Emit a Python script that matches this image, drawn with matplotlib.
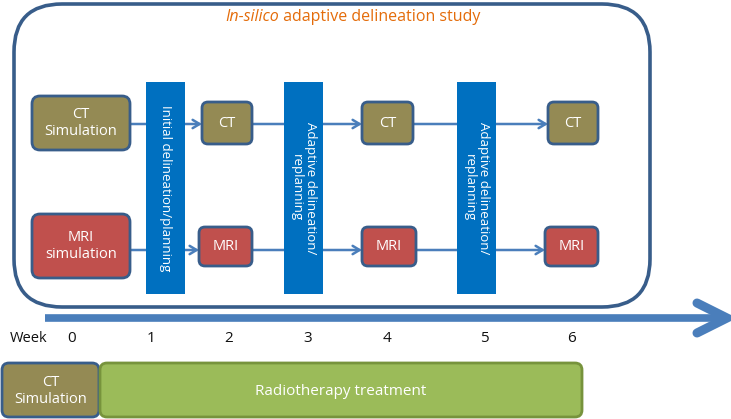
import matplotlib
matplotlib.use("Agg")
import matplotlib.pyplot as plt
from matplotlib.patches import FancyBboxPatch

# ---- content ----
title_italic = "In-silico"
title_rest = " adaptive delineation study"
week_label = "Week"
weeks = ["0", "1", "2", "3", "4", "5", "6"]
sim_labels = ["CT\nSimulation", "MRI\nsimulation"]
scan_labels = ["CT", "MRI"]
bar_labels = ["Initial delineation/planning", "Adaptive delineation/\nreplanning", "Adaptive delineation/\nreplanning"]
bottom_labels = ["CT\nSimulation", "Radiotherapy treatment"]

# ---- colors ----
OLIVE = "#948A54"
RED = "#C0504D"
GREEN = "#9BBB59"
GREEN_EDGE = "#77933C"
BAR = "#0070C0"
EDGE = "#385D8A"
ARROW = "#4A7EBB"
ORANGE = "#E46C0A"

FONT = ["Open Sans", "DejaVu Sans"]

fig = plt.figure(figsize=(7.31, 4.19), dpi=100)
ax = fig.add_axes([0, 0, 1, 1])
ax.set_xlim(0, 731)
ax.set_ylim(419, 0)
ax.axis("off")

def rbox(x0, y0, x1, y1, fc, ec, lw=2.0, r=6, z=3):
    p = FancyBboxPatch((x0, y0), x1 - x0, y1 - y0,
                       boxstyle=f"round,pad=0,rounding_size={r}",
                       fc=fc, ec=ec, lw=lw, zorder=z)
    ax.add_patch(p)

def label(x, y, s, size=10.5, color="white", **kw):
    ax.text(x, y, s, ha="center", va="center", color=color, fontsize=size,
            family=FONT, linespacing=1.15, zorder=6, **kw)

def arrow(x0, x1, y):
    ax.annotate("", xy=(x1, y), xytext=(x0, y),
                arrowprops=dict(arrowstyle="->,head_length=0.5,head_width=0.3",
                                color=ARROW, lw=1.8, shrinkA=0, shrinkB=0),
                zorder=2)

# outer rounded frame
rbox(14, 4, 650, 307, "white", EDGE, lw=2.6, r=48, z=1)

# title
ax.text(279, 17, title_italic, ha="right", va="center", color=ORANGE,
        fontsize=11.5, family=FONT, style="italic")
ax.text(279, 17, title_rest, ha="left", va="center", color=ORANGE,
        fontsize=11.5, family=FONT)

# rows
row_y = [124, 250]
row_fc = [OLIVE, RED]
sim_box = [(32, 96, 130, 150), (32, 214, 130, 278)]
small_boxes = [
    [(202, 102, 252, 144), (362, 102, 413, 144), (548, 102, 598, 144)],
    [(199, 227, 252, 266), (362, 227, 416, 266), (545, 227, 598, 266)],
]
for i in range(2):
    x0, y0, x1, y1 = sim_box[i]
    rbox(x0, y0, x1, y1, row_fc[i], EDGE, lw=2.0, r=8)
    label((x0 + x1) / 2, (y0 + y1) / 2, sim_labels[i])
    prev_right = x1
    for (a0, b0, a1, b1) in small_boxes[i]:
        arrow(prev_right, a0, row_y[i])
        rbox(a0, b0, a1, b1, row_fc[i], EDGE, lw=2.0, r=6)
        label((a0 + a1) / 2, (b0 + b1) / 2, scan_labels[i])
        prev_right = a1

# vertical blue bars
bars_x = [(146, 185), (284, 323), (457, 496)]
for (x0, x1), s in zip(bars_x, bar_labels):
    ax.add_patch(plt.Rectangle((x0, 82), x1 - x0, 294 - 82, fc=BAR, ec="none", zorder=4))
    label((x0 + x1) / 2, 188, s, size=9.5, rotation=-90)

# timeline arrow
ax.plot([45, 726], [318, 318], color=ARROW, lw=5.5, solid_capstyle="butt", zorder=2)
ax.plot([697, 727, 697], [303, 318, 333], color=ARROW, lw=6.5,
        solid_capstyle="round", solid_joinstyle="miter", zorder=2)

# week labels
week_x = [72, 151, 229, 308, 387, 484, 572]
ax.text(10, 338, week_label, ha="left", va="center", fontsize=10.5, family=FONT, color="#111111")
for wx, w in zip(week_x, weeks):
    ax.text(wx, 338, w, ha="center", va="center", fontsize=11, family=FONT, color="#111111")

# bottom bars
rbox(2, 363, 99, 417, OLIVE, EDGE, lw=2.0, r=7)
label(50.5, 391, bottom_labels[0])
rbox(100, 363, 582, 417, GREEN, GREEN_EDGE, lw=2.0, r=7)
label(341, 391, bottom_labels[1], size=11)

fig.savefig("out.png", dpi=100)
